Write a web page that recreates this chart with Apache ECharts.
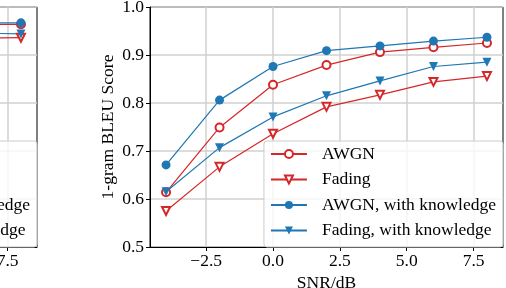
<!DOCTYPE html>
<html>
<head>
<meta charset="utf-8">
<script src="https://cdn.jsdelivr.net/npm/echarts@6/dist/echarts.min.js"></script>
<style>
html,body{margin:0;padding:0;background:#fff;}
#chart{width:506px;height:288px;}
</style>
</head>
<body>
<div id="chart"></div>
<script>
// ---- data (right panel, fully visible) ----
const snr = [-4, -2, 0, 2, 4, 6, 8];
const awgn = [0.614, 0.749, 0.838, 0.879, 0.906, 0.916, 0.925];
const fading = [0.575, 0.667, 0.736, 0.792, 0.817, 0.844, 0.856];
const awgnK = [0.671, 0.806, 0.876, 0.909, 0.919, 0.929, 0.937];
const fadingK = [0.615, 0.707, 0.771, 0.815, 0.846, 0.876, 0.885];
// ---- data (left panel, only its right edge is visible) ----
const leftSnr = [6, 8];
const leftAwgn = [0.963, 0.964];
const leftFading = [0.935, 0.936];
const leftAwgnK = [0.967, 0.967];
const leftFadingK = [0.946, 0.944];
// ---- labels / ticks ----
const seriesNames = ['AWGN', 'Fading', 'AWGN, with knowledge', 'Fading, with knowledge'];
const xTicks = [-2.5, 0.0, 2.5, 5.0, 7.5];
const xName = 'SNR/dB';
const yName = '1-gram BLEU Score';

const RED = '#d62728', BLUE = '#1f77b4';
const FONT = 'Liberation Serif';
const FS = 17.5;

function pairs(xs, ys){ return xs.map((x,i)=>[x, ys[i]]); }

const styles = [
  {color: RED, symbol: 'emptyCircle', size: 8, rot: 0},
  {color: RED, symbol: 'emptyTriangle', size: 8, rot: 180},
  {color: BLUE, symbol: 'circle', size: 9, rot: 0},
  {color: BLUE, symbol: 'triangle', size: 9, rot: 180}
];

function makeSeries(gridIdx, datasets){
  return datasets.map((d, i) => ({
    type: 'line',
    name: seriesNames[i],
    xAxisIndex: gridIdx, yAxisIndex: gridIdx,
    data: d,
    symbol: styles[i].symbol,
    symbolSize: styles[i].size,
    symbolRotate: styles[i].rot,
    showAllSymbol: true,
    clip: true,
    lineStyle: {color: styles[i].color, width: 1.2},
    itemStyle: {color: styles[i].color, borderWidth: 1.2},
    emphasis: {disabled: true},
    animation: false
  }));
}

const PANEL_SHIFT = 466;
const G_LEFT = 150, G_W = 353, G_TOP = 7, G_H = 240;

function xAxisFor(gi){
  return {
    type: 'value', gridIndex: gi, min: -4.6, max: 8.6,
    name: xName, nameLocation: 'middle', nameGap: 23,
    nameTextStyle: {fontFamily: FONT, fontSize: FS, color: '#000'},
    axisLine: {show: true, onZero: false, lineStyle: {color: '#000', width: 1}},
    axisTick: {show: true, length: 4, lineStyle: {color: '#000'}, customValues: xTicks},
    axisLabel: {show: true, margin: 5, fontFamily: FONT, fontSize: FS, color: '#000',
      customValues: xTicks,
      formatter: v => (v < 0 ? '\u2212' : '') + Math.abs(v).toFixed(1)},
    splitLine: {show: true, lineStyle: {color: '#d0d0d0', width: 1.5}},
    minorSplitLine: {show: false}
  };
}
function yAxisFor(gi){
  return {
    type: 'value', gridIndex: gi, min: 0.5, max: 1.0, interval: 0.1,
    name: yName, nameLocation: 'middle', nameGap: 33, nameMoveOverlap: false,
    nameTextStyle: {fontFamily: FONT, fontSize: FS, color: '#000'},
    axisLine: {show: true, onZero: false, lineStyle: {color: '#000', width: 1}},
    axisTick: {show: true, length: 4, lineStyle: {color: '#000'}},
    axisLabel: {show: true, margin: 6, fontFamily: FONT, fontSize: FS, color: '#000',
      formatter: v => v.toFixed(1)},
    splitLine: {show: true, lineStyle: {color: '#d0d0d0', width: 1.5}}
  };
}
function legendFor(rightPx){
  return {
    orient: 'vertical', right: rightPx, bottom: 41,
    data: seriesNames,
    itemWidth: 36, itemHeight: 10, itemGap: 7.5,
    padding: [4, 7, 7.5, 6],
    backgroundColor: 'rgba(255,255,255,0.8)',
    borderColor: '#cccccc', borderWidth: 1, borderRadius: 3,
    selectedMode: false,
    textStyle: {fontFamily: FONT, fontSize: FS, color: '#000', lineHeight: 18, padding: [0,0,0,10]}
  };
}

const gridBase = {top: G_TOP, width: G_W, height: G_H, show: true, borderColor: '#000', borderWidth: 1,
  backgroundColor: 'transparent', containLabel: false, outerBoundsMode: 'none'};

const chart = echarts.init(document.getElementById('chart'), null, {renderer: 'canvas'});
chart.setOption({
  animation: false,
  backgroundColor: '#fff',
  grid: [
    Object.assign({left: G_LEFT}, gridBase),
    Object.assign({left: G_LEFT - PANEL_SHIFT}, gridBase)
  ],
  xAxis: [xAxisFor(0), xAxisFor(1)],
  yAxis: [yAxisFor(0), yAxisFor(1)],
  legend: [legendFor(506 - (G_LEFT + G_W)), legendFor(506 - (G_LEFT + G_W - PANEL_SHIFT))],
  series: [
    ...makeSeries(0, [pairs(snr, awgn), pairs(snr, fading), pairs(snr, awgnK), pairs(snr, fadingK)]),
    ...makeSeries(1, [pairs(leftSnr, leftAwgn), pairs(leftSnr, leftFading), pairs(leftSnr, leftAwgnK), pairs(leftSnr, leftFadingK)])
  ]
});
</script>
</body>
</html>
